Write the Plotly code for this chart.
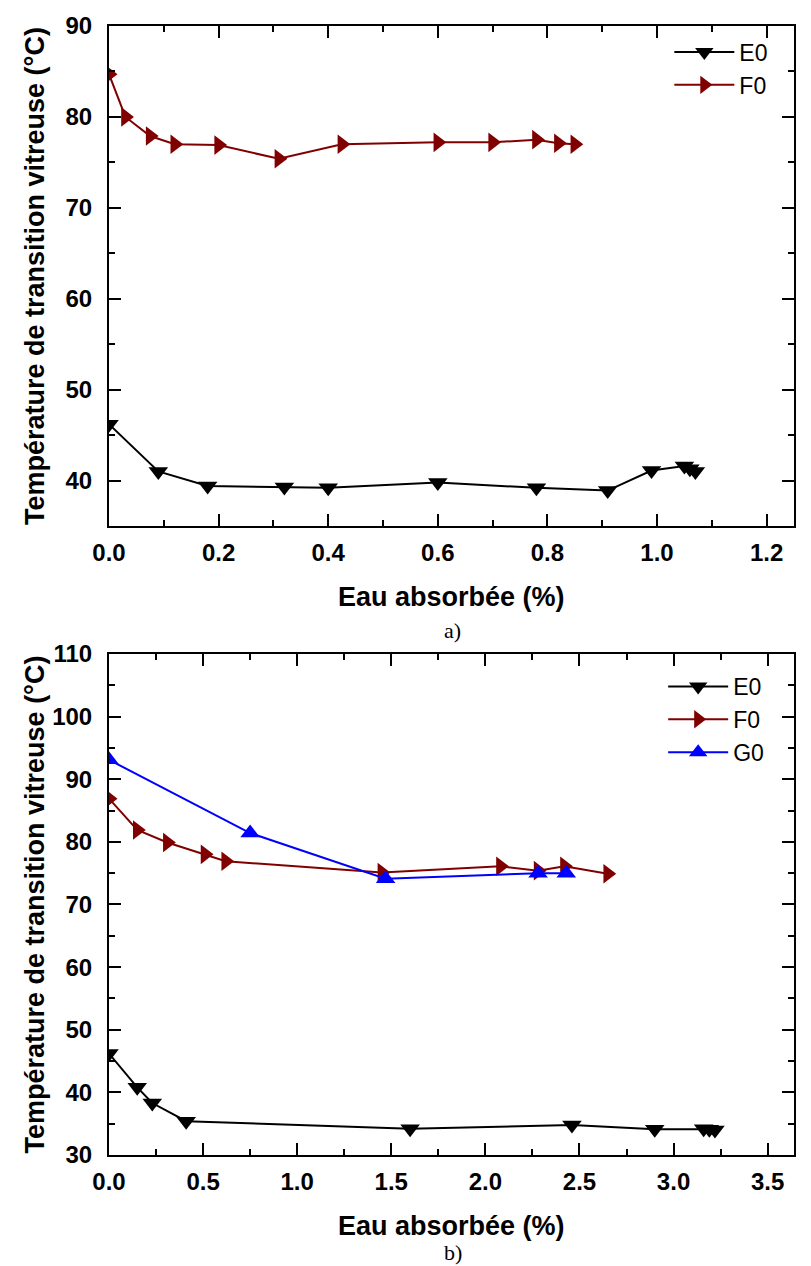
import plotly.graph_objects as go

# ---------------- data ----------------
# panel a)
e0_a_x = [0.0, 0.09, 0.18, 0.32, 0.40, 0.60, 0.78, 0.91, 0.99, 1.05, 1.06, 1.07]
e0_a_y = [46.2, 41.0, 39.4, 39.3, 39.2, 39.8, 39.2, 38.9, 41.1, 41.6, 41.3, 41.0]
f0_a_x = [0.0, 0.03, 0.075, 0.12, 0.20, 0.31, 0.425, 0.60, 0.70, 0.78, 0.82, 0.85]
f0_a_y = [84.7, 80.0, 77.9, 77.0, 76.9, 75.4, 77.0, 77.2, 77.2, 77.5, 77.1, 77.0]

# panel b)
e0_b_x = [0.0, 0.15, 0.23, 0.41, 1.60, 2.46, 2.90, 3.16, 3.19, 3.22]
e0_b_y = [46.2, 40.8, 38.3, 35.4, 34.2, 34.8, 34.1, 34.2, 34.1, 34.0]
f0_b_x = [0.0, 0.15, 0.31, 0.51, 0.62, 1.45, 2.08, 2.28, 2.42, 2.65]
f0_b_y = [86.9, 81.9, 79.9, 78.0, 76.9, 75.1, 76.1, 75.4, 76.1, 74.9]
g0_b_x = [0.0, 0.75, 1.47, 2.28, 2.43]
g0_b_y = [93.1, 81.4, 74.1, 75.0, 75.0]

x_title = "Eau absorbée (%)"
y_title = "Température de transition vitreuse (°C)"
captions = ["a)", "b)"]

# ---------------- styling ----------------
BLACK = "#000000"
RED = "#800000"
BLUE = "#0000FF"
SANS = "Liberation Sans, Arial, sans-serif"
SERIF = "Liberation Serif, Times New Roman, serif"
MS = 17

fig = go.Figure()

def add(x, y, name, color, symbol, xa, ya, legend, show=True):
    fig.add_trace(go.Scatter(
        x=x, y=y, name=name, mode="lines+markers",
        line=dict(color=color, width=2),
        marker=dict(symbol=symbol, size=MS, color=color),
        xaxis=xa, yaxis=ya, legend=legend, showlegend=show,
    ))

add(e0_a_x, e0_a_y, "E0", BLACK, "triangle-down", "x", "y", "legend")
add(f0_a_x, f0_a_y, "F0", RED, "triangle-right", "x", "y", "legend")
add(e0_b_x, e0_b_y, "E0", BLACK, "triangle-down", "x2", "y2", "legend2")
add(f0_b_x, f0_b_y, "F0", RED, "triangle-right", "x2", "y2", "legend2")
add(g0_b_x, g0_b_y, "G0", BLUE, "triangle-up", "x2", "y2", "legend2")

tickfont = dict(family=SANS, size=24, color=BLACK, weight="bold")

def axis(**kw):
    base = dict(
        showgrid=False, zeroline=False, showline=True, linecolor=BLACK,
        linewidth=2, mirror="allticks", ticks="inside", ticklen=12,
        tickwidth=2, tickcolor=BLACK, tickfont=tickfont,
    )
    base.update(kw)
    return base

TOP_LOW = 0.5571
BOT_HIGH = 0.4438

fig.update_layout(
    width=811, height=1266,
    margin=dict(l=109, r=17, t=17, b=111),
    paper_bgcolor="white", plot_bgcolor="white",
    xaxis=axis(domain=[0, 1], anchor="y", range=[0, 1.25], dtick=0.2, tick0=0,
               tickformat=".1f", ticklabelstandoff=4,
               minor=dict(dtick=0.1, ticks="inside", ticklen=6, tickwidth=2, tickcolor=BLACK)),
    yaxis=axis(domain=[TOP_LOW, 1], anchor="x", range=[35, 90], dtick=10, tick0=0,
               ticklabelstandoff=10,
               minor=dict(dtick=5, ticks="inside", ticklen=6, tickwidth=2, tickcolor=BLACK)),
    xaxis2=axis(domain=[0, 1], anchor="y2", range=[0, 3.64], dtick=0.5, tick0=0,
                tickformat=".1f", ticklabelstandoff=4,
                minor=dict(dtick=0.25, ticks="inside", ticklen=6, tickwidth=2, tickcolor=BLACK)),
    yaxis2=axis(domain=[0, BOT_HIGH], anchor="x2", range=[30, 110], dtick=10, tick0=0,
                ticklabelstandoff=10,
                minor=dict(dtick=5, ticks="inside", ticklen=6, tickwidth=2, tickcolor=BLACK)),
    legend=dict(x=0.818, y=0.996, xanchor="left", yanchor="top",
                bgcolor="rgba(0,0,0,0)", itemwidth=60, tracegroupgap=0,
                font=dict(family=SANS, size=23, color=BLACK)),
    legend2=dict(x=0.809, y=0.434, xanchor="left", yanchor="top",
                 bgcolor="rgba(0,0,0,0)", itemwidth=60, tracegroupgap=0,
                 font=dict(family=SANS, size=23, color=BLACK)),
)

ann_font = dict(family=SANS, size=27, color=BLACK, weight="bold")
cap_shift = [-104, -97]
for k, (ylo, yhi) in enumerate([(TOP_LOW, 1.0), (0.0, BOT_HIGH)]):
    # y-axis title
    fig.add_annotation(text=y_title, xref="paper", yref="paper",
                       x=-0.108, y=(ylo + yhi) / 2, xanchor="center", yanchor="middle",
                       textangle=-90, showarrow=False, font=ann_font)
    # x-axis title
    fig.add_annotation(text=x_title, xref="paper", yref="paper",
                       x=0.5, y=ylo, yshift=-71, xanchor="center", yanchor="middle",
                       showarrow=False, font=ann_font)
    # caption
    fig.add_annotation(text=captions[k], xref="paper", yref="paper",
                       x=0.502, y=ylo, yshift=cap_shift[k], xanchor="center", yanchor="middle",
                       showarrow=False, font=dict(family=SERIF, size=22, color=BLACK))

fig.write_html("out.html", config={"displayModeBar": False},
               post_script="document.body.style.margin='0px';")
